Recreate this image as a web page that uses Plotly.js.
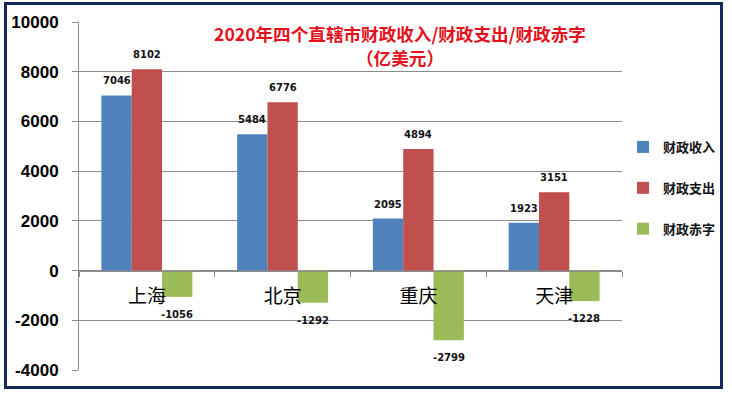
<!DOCTYPE html>
<html>
<head>
<meta charset="utf-8">
<script src="https://cdn.plot.ly/plotly-3.0.1.min.js"></script>
<style>
html,body{margin:0;padding:0;background:#fff;}
#wrap{position:relative;width:732px;height:395px;overflow:hidden;}
#chart{position:absolute;left:0;top:0;width:732px;height:395px;}
#frame{position:absolute;left:4px;top:2px;width:713px;height:381px;border:3px solid #14285a;pointer-events:none;}
</style>
</head>
<body>
<div id="wrap"><div id="chart"></div><div id="frame"></div></div>
<script>
const categories = ["上海", "北京", "重庆", "天津"];
const seriesNames = ["财政收入", "财政支出", "财政赤字"];
const revenue = [7046, 5484, 2095, 1923];
const expenditure = [8102, 6776, 4894, 3151];
const deficit = [-1056, -1292, -2799, -1228];
const yTicks = [-4000, -2000, 0, 2000, 4000, 6000, 8000, 10000];
const yTickText = ["-4000", "-2000", "0", "2000", "4000", "6000", "8000", "10000"];

const colors = ["#4F81BD", "#C0504D", "#9BBB59"];
const seriesValues = [revenue, expenditure, deficit];
const bargap = 0.33;

const traces = seriesValues.map((vals, i) => ({
  type: "bar",
  name: seriesNames[i],
  x: categories,
  y: vals,
  marker: {color: colors[i], line: {width: 0}},
  legendgroup: "g" + i,
  hoverinfo: "x+y+name"
}));

const annotations = [];
const slot = (1 - bargap) / 3;
seriesValues.forEach((vals, i) => {
  vals.forEach((v, j) => {
    annotations.push({
      xref: "x", yref: "y",
      x: j + (i - 1) * slot,
      y: v,
      text: String(v),
      showarrow: false,
      yanchor: v >= 0 ? "bottom" : "top",
      yshift: v >= 0 ? 7 : -10,
      font: {family: "DejaVu Sans, sans-serif", size: 10, color: "#111", weight: "bold"}
    });
  });
});

annotations.push({
  xref: "paper", yref: "paper", x: 0.592, y: 0.968,
  text: "2020年四个直辖市财政收入/财政支出/财政赤字",
  showarrow: false, xanchor: "center", yanchor: "middle",
  font: {family: "Noto Sans CJK SC, sans-serif", size: 17.6, color: "#E4101C", weight: "bold"}
});
annotations.push({
  xref: "paper", yref: "paper", x: 0.592, y: 0.897,
  text: "（亿美元）",
  showarrow: false, xanchor: "center", yanchor: "middle",
  font: {family: "Noto Sans CJK SC, sans-serif", size: 17.6, color: "#E4101C", weight: "bold"}
});

const layout = {
  width: 732, height: 395,
  margin: {l: 79, r: 109, t: 22, b: 25, pad: 0},
  paper_bgcolor: "rgba(0,0,0,0)",
  plot_bgcolor: "#fff",
  barmode: "group",
  bargap: bargap,
  bargroupgap: 0,
  showlegend: true,
  legend: {
    x: 1.0, y: 0.684, xanchor: "left", yanchor: "top",
    traceorder: "grouped", tracegroupgap: 21,
    font: {family: "Noto Sans CJK SC, sans-serif", size: 13, color: "#111", weight: "bold"},
    itemwidth: 30, bgcolor: "rgba(0,0,0,0)"
  },
  xaxis: {
    type: "category",
    anchor: "free",
    position: 4000 / 14000,
    showline: true, linecolor: "#8c8c8c", linewidth: 1,
    ticks: "outside", tickson: "boundaries", ticklen: 5, tickcolor: "#8c8c8c",
    ticklabelstandoff: 9,
    showgrid: false, zeroline: false,
    tickfont: {family: "Noto Sans CJK SC, sans-serif", size: 19, color: "#000"}
  },
  yaxis: {
    range: [-4000, 10000],
    tickvals: yTicks,
    ticktext: yTickText,
    showline: true, linecolor: "#8c8c8c", linewidth: 1,
    ticks: "outside", ticklen: 6, tickcolor: "#8c8c8c",
    showgrid: true, gridcolor: "#8c8c8c", gridwidth: 1,
    zeroline: true, zerolinecolor: "#8c8c8c", zerolinewidth: 1,
    ticklabelstandoff: 10,
    tickfont: {family: "Liberation Sans, Arial, sans-serif", size: 17, color: "#000", weight: "bold"}
  },
  annotations: annotations
};

Plotly.newPlot("chart", traces, layout, {displayModeBar: false, staticPlot: true});
</script>
</body>
</html>
